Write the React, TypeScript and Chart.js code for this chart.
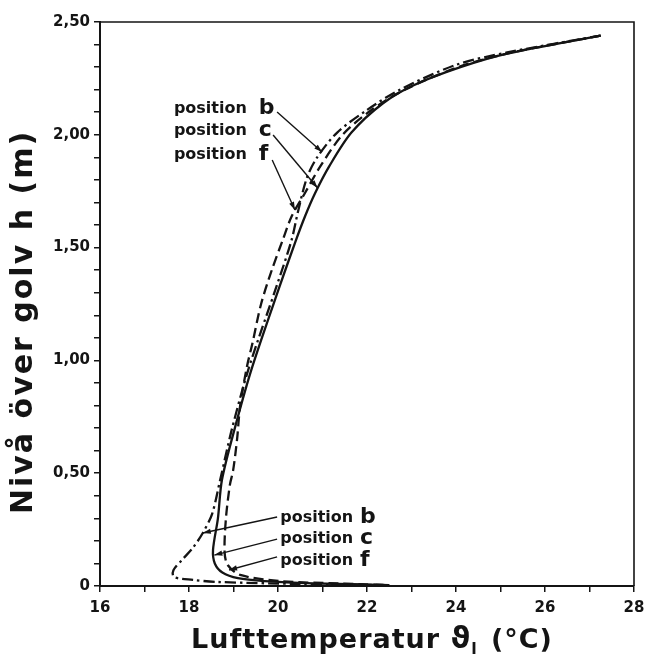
import React, { useEffect, useRef } from 'react';
import { Chart, registerables } from 'chart.js';

Chart.register(...registerables);

// ---- data (temperature °C, height m) ----
// position b (dash-dot)
const posB_T = [27.25, 25.15, 24.0, 22.74, 22.0, 21.33, 20.88, 20.65, 20.45, 20.3, 19.97, 19.35, 18.97, 18.7, 18.52, 18.31, 18.09, 17.84, 17.65, 17.66, 18.09, 18.63, 20.5, 22.5];
const posB_H = [2.44, 2.365, 2.31, 2.2, 2.11, 2.01, 1.9, 1.81, 1.66, 1.53, 1.33, 0.97, 0.7, 0.47, 0.32, 0.235, 0.17, 0.115, 0.07, 0.04, 0.027, 0.018, 0.009, 0.004];
// position c (solid)
const posC_T = [27.25, 25.15, 24.1, 23.05, 22.36, 21.65, 21.15, 20.83, 20.61, 20.38, 20.04, 19.42, 19.03, 18.74, 18.65, 18.54, 18.58, 18.75, 19.1, 19.7, 20.8, 22.5];
const posC_H = [2.44, 2.36, 2.3, 2.22, 2.14, 2.01, 1.86, 1.74, 1.64, 1.52, 1.33, 0.97, 0.7, 0.47, 0.3, 0.16, 0.1, 0.06, 0.035, 0.022, 0.012, 0.004];
// position f (dashed)
const posF_T = [27.25, 25.15, 24.05, 22.85, 22.1, 21.45, 20.95, 20.6, 20.31, 20.1, 19.86, 19.62, 19.43, 19.3, 19.15, 19.08, 18.99, 18.92, 18.83, 18.8, 18.87, 19.15, 20.04, 21.4, 22.5];
const posF_H = [2.44, 2.36, 2.3, 2.2, 2.11, 2.0, 1.86, 1.74, 1.64, 1.53, 1.4, 1.25, 1.08, 0.97, 0.8, 0.65, 0.51, 0.45, 0.3, 0.15, 0.093, 0.049, 0.022, 0.011, 0.004];

const xTickLabels = ['16', '18', '20', '22', '24', '26', '28'];
const yTickLabels = ['0', '0,50', '1,00', '1,50', '2,00', '2,50'];

const xTitle = 'Lufttemperatur';
const xTitleSymbol = 'ϑ';
const xTitleSub = 'l';
const xTitleUnit = '(°C)';
const yTitle = 'Nivå över golv h (m)';

// annotation anchors in data units
const annotations = [
  { letter: 'b', textT: 19.3, letterT: 19.57, textH: 2.097, fromT: 19.98, fromH: 2.101, toT: 20.99, toH: 1.924 },
  { letter: 'c', textT: 19.3, letterT: 19.57, textH: 1.999, fromT: 19.89, fromH: 1.999, toT: 20.89, toH: 1.764 },
  { letter: 'f', textT: 19.3, letterT: 19.57, textH: 1.893, fromT: 19.87, fromH: 1.888, toT: 20.38, toH: 1.667 },
  { letter: 'b', textT: 21.69, letterT: 21.84, textH: 0.284, fromT: 19.98, fromH: 0.306, toT: 18.31, toH: 0.235 },
  { letter: 'c', textT: 21.69, letterT: 21.84, textH: 0.191, fromT: 19.98, fromH: 0.208, toT: 18.57, toH: 0.137 },
  { letter: 'f', textT: 21.69, letterT: 21.84, textH: 0.093, fromT: 19.98, fromH: 0.129, toT: 18.9, toH: 0.071 },
];

const toXY = (t: number[], h: number[]) => t.map((v, i) => ({ x: v, y: h[i] }));

const INK = '#141414';
const FONT = '"DejaVu Sans", "Liberation Sans", sans-serif';

const annotationPlugin = {
  id: 'annotationsAndFrame',
  afterDatasetsDraw(chart: any) {
    const { ctx, chartArea, scales } = chart;
    const xs = scales.x;
    const ys = scales.y;
    ctx.save();
    // frame top + right
    ctx.strokeStyle = INK;
    ctx.lineWidth = 1.6;
    ctx.beginPath();
    ctx.moveTo(chartArea.left, chartArea.top);
    ctx.lineTo(chartArea.right, chartArea.top);
    ctx.lineTo(chartArea.right, chartArea.bottom);
    ctx.stroke();

    ctx.fillStyle = INK;
    annotations.forEach((a) => {
      const ty = ys.getPixelForValue(a.textH);
      ctx.font = `bold 16px ${FONT}`;
      ctx.textAlign = 'right';
      ctx.textBaseline = 'alphabetic';
      ctx.fillText('position', xs.getPixelForValue(a.textT), ty);
      ctx.font = `bold 22px ${FONT}`;
      ctx.textAlign = 'left';
      ctx.fillText(a.letter, xs.getPixelForValue(a.letterT), ty + 1);

      const x1 = xs.getPixelForValue(a.fromT);
      const y1 = ys.getPixelForValue(a.fromH);
      const x2 = xs.getPixelForValue(a.toT);
      const y2 = ys.getPixelForValue(a.toH);
      ctx.lineWidth = 1.4;
      ctx.beginPath();
      ctx.moveTo(x1, y1);
      ctx.lineTo(x2, y2);
      ctx.stroke();
      const ang = Math.atan2(y2 - y1, x2 - x1);
      const len = 8;
      const hw = 2.6;
      ctx.beginPath();
      ctx.moveTo(x2, y2);
      ctx.lineTo(x2 - len * Math.cos(ang) + hw * Math.sin(ang), y2 - len * Math.sin(ang) - hw * Math.cos(ang));
      ctx.lineTo(x2 - len * Math.cos(ang) - hw * Math.sin(ang), y2 - len * Math.sin(ang) + hw * Math.cos(ang));
      ctx.closePath();
      ctx.fill();
    });

    // axis titles
    const cx = (chartArea.left + chartArea.right) / 2 + 5;
    (ctx as any).letterSpacing = '1px';
    ctx.textBaseline = 'alphabetic';
    ctx.font = `bold 27px ${FONT}`;
    const w1 = ctx.measureText(xTitle + ' ').width;
    ctx.font = `bold 30px ${FONT}`;
    const w2 = ctx.measureText(xTitleSymbol).width;
    ctx.font = `bold 16px ${FONT}`;
    const w3 = ctx.measureText(xTitleSub + '  ').width;
    ctx.font = `bold 27px ${FONT}`;
    const w4 = ctx.measureText(xTitleUnit).width;
    let px = cx - (w1 + w2 + w3 + w4) / 2;
    const base = 648;
    ctx.textAlign = 'left';
    ctx.font = `bold 27px ${FONT}`;
    ctx.fillText(xTitle + ' ', px, base);
    px += w1;
    ctx.font = `bold 30px ${FONT}`;
    ctx.fillText(xTitleSymbol, px, base);
    px += w2;
    ctx.font = `bold 16px ${FONT}`;
    ctx.fillText(xTitleSub, px, base + 6);
    px += w3;
    ctx.font = `bold 27px ${FONT}`;
    ctx.fillText(xTitleUnit, px, base);

    ctx.save();
    ctx.translate(24, 322);
    ctx.rotate(-Math.PI / 2);
    (ctx as any).letterSpacing = '2px';
    ctx.font = `bold 30px ${FONT}`;
    ctx.textAlign = 'center';
    ctx.textBaseline = 'middle';
    ctx.fillText(yTitle, 0, 0);
    ctx.restore();

    ctx.restore();
  },
};

export default function App() {
  const ref = useRef<HTMLCanvasElement | null>(null);

  useEffect(() => {
    if (!ref.current) return;
    const common = {
      pointRadius: 0,
      borderColor: INK,
      borderWidth: 2.3,
      tension: 0.3,
      fill: false,
      clip: false as any,
    };
    const chart = new Chart(ref.current, {
      type: 'line',
      data: {
        datasets: [
          { ...common, label: 'position b', data: toXY(posB_T, posB_H), borderDash: [11, 4, 2.5, 4] },
          { ...common, label: 'position c', data: toXY(posC_T, posC_H) },
          { ...common, label: 'position f', data: toXY(posF_T, posF_H), borderDash: [10, 5] },
        ],
      },
      options: {
        responsive: false,
        animation: false,
        layout: { padding: { top: 22, right: 13, left: 0, bottom: 0 } },
        plugins: {
          legend: { display: false },
          tooltip: { enabled: false },
        },
        scales: {
          x: {
            type: 'linear',
            min: 16,
            max: 28,
            afterFit: (s: any) => {
              s.height = 81;
              s.paddingLeft = 0;
              s.paddingRight = 0;
            },
            ticks: {
              stepSize: 1,
              autoSkip: false,
              maxRotation: 0,
              padding: 7,
              color: INK,
              font: { family: FONT, size: 15, weight: 'bold' },
              callback: (v: any) => {
                const n = Math.round(Number(v));
                return n % 2 === 0 ? xTickLabels[(n - 16) / 2] : '';
              },
            },
            grid: { display: true, drawOnChartArea: false, drawTicks: true, tickLength: 6, color: INK, lineWidth: 1.5 },
            border: { display: true, color: INK, width: 2 },
            title: { display: false },
          },
          y: {
            type: 'linear',
            min: 0,
            max: 2.5,
            afterFit: (s: any) => {
              s.width = 100;
              s.paddingTop = 0;
              s.paddingBottom = 0;
            },
            ticks: {
              stepSize: 0.1,
              autoSkip: false,
              padding: 4,
              color: INK,
              font: { family: FONT, size: 15, weight: 'bold' },
              callback: (v: any) => {
                const k = Math.round(Number(v) * 10);
                return k % 5 === 0 ? yTickLabels[k / 5] : '';
              },
            },
            grid: { display: true, drawOnChartArea: false, drawTicks: true, tickLength: 6, color: INK, lineWidth: 1.5 },
            border: { display: true, color: INK, width: 2 },
            title: { display: false },
          },
        },
      },
      plugins: [annotationPlugin],
    });
    return () => chart.destroy();
  }, []);

  return (
    <div style={{ position: 'fixed', left: 0, top: 0, width: 647, height: 667, background: '#fff' }}>
      <canvas ref={ref} width={647} height={667} style={{ display: 'block' }} />
    </div>
  );
}
